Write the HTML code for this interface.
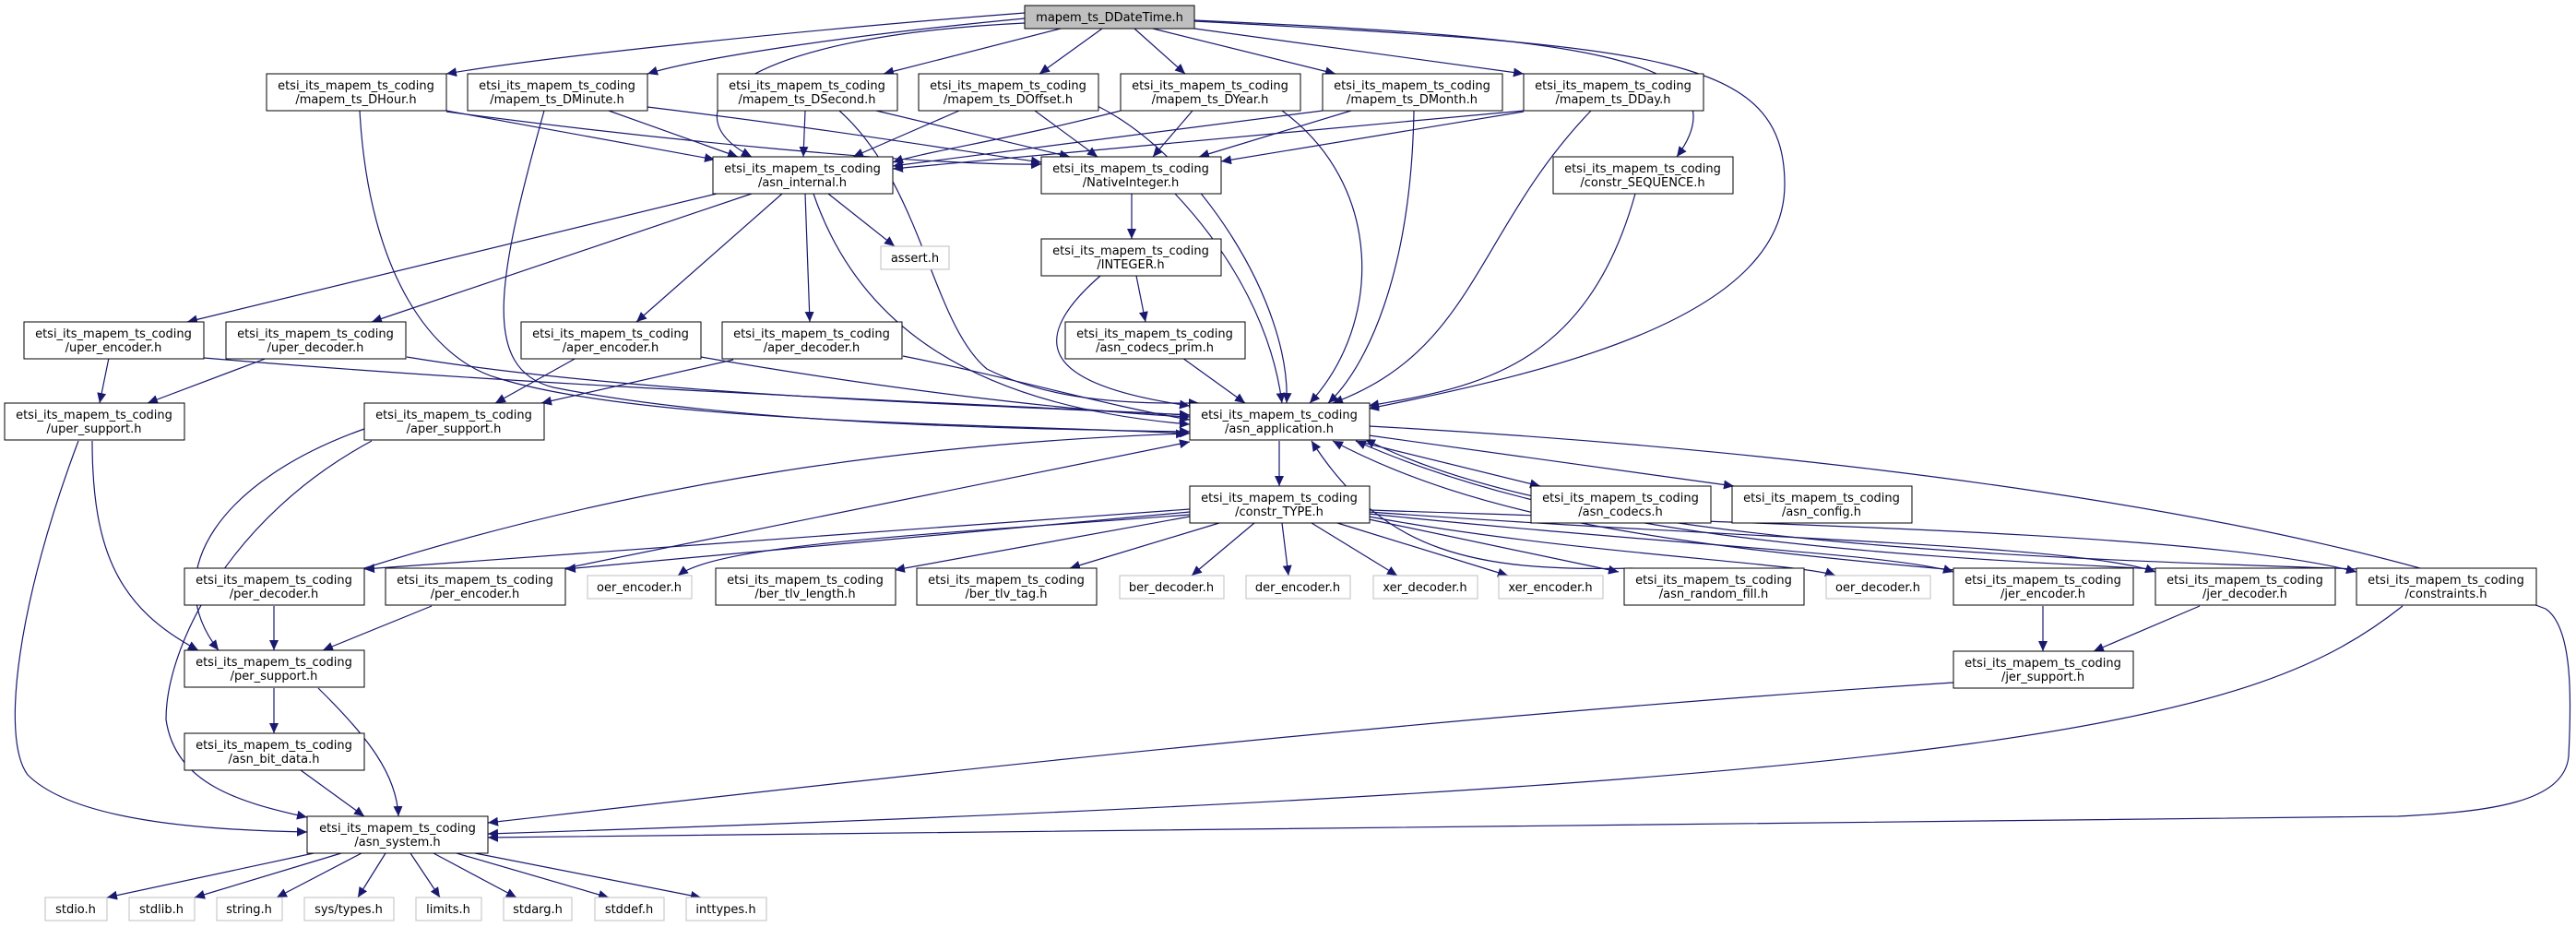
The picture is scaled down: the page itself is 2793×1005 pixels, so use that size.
<!DOCTYPE html>
<html><head><meta charset="utf-8"><style>
html,body{margin:0;padding:0;background:#fff}
svg{display:block}
text{font-family:"DejaVu Sans","Liberation Sans",sans-serif;font-size:13px;fill:#000;text-anchor:middle}
.n{fill:#fff;stroke:#000;stroke-width:1}
.g{fill:#fff;stroke:#bfbfbf;stroke-width:1}
.e path{fill:none;stroke:#191970;stroke-width:1.2}
</style></head><body>
<svg width="2793" height="1005" viewBox="0 0 2793 1005" xmlns="http://www.w3.org/2000/svg">
<defs><marker id="a" markerUnits="userSpaceOnUse" markerWidth="12" markerHeight="10" refX="11" refY="5" orient="auto"><path d="M0,0 L11,5 L0,10 z" fill="#191970"/></marker></defs>
<g class="e" marker-end="url(#a)">
<path d="M1111,14 C900,30 600,60 484,80" marker-end="url(#a)"/>
<path d="M1111,20 C900,40 750,65 702,80" marker-end="url(#a)"/>
<path d="M1150,31 L958,80" marker-end="url(#a)"/>
<path d="M1111,25 C800,40 720,120 815,170" marker-end="url(#a)"/>
<path d="M1195,31 L1127,80" marker-end="url(#a)"/>
<path d="M1230,31 L1285,80" marker-end="url(#a)"/>
<path d="M1250,31 L1448,80" marker-end="url(#a)"/>
<path d="M1295,31 L1652,80" marker-end="url(#a)"/>
<path d="M1295,22 C1700,40 1900,60 1818,170" marker-end="url(#a)"/>
<path d="M1295,23 C1800,50 1935,60 1935,200 C1935,340 1700,400 1484,443" marker-end="url(#a)"/>
<path d="M484,120 L775,173" marker-end="url(#a)"/>
<path d="M484,121 C700,150 1000,180 1129,178" marker-end="url(#a)"/>
<path d="M390,120 C400,300 470,390 540,410 C700,460 1100,460 1290,470" marker-end="url(#a)"/>
<path d="M660,120 L800,170" marker-end="url(#a)"/>
<path d="M702,116 C900,140 1050,165 1129,176" marker-end="url(#a)"/>
<path d="M590,120 C540,300 520,400 600,420 C800,460 1100,465 1290,468" marker-end="url(#a)"/>
<path d="M873,120 L871,170" marker-end="url(#a)"/>
<path d="M950,120 L1160,170" marker-end="url(#a)"/>
<path d="M910,120 C1000,200 1010,350 1070,400 C1150,440 1250,437 1300,437" marker-end="url(#a)"/>
<path d="M1040,120 L925,170" marker-end="url(#a)"/>
<path d="M1122,120 L1190,170" marker-end="url(#a)"/>
<path d="M1190,115 C1300,170 1400,330 1395,437" marker-end="url(#a)"/>
<path d="M1215,120 C1100,150 1000,165 968,176" marker-end="url(#a)"/>
<path d="M1293,120 L1250,170" marker-end="url(#a)"/>
<path d="M1390,120 C1500,200 1500,350 1420,437" marker-end="url(#a)"/>
<path d="M1434,120 L968,180" marker-end="url(#a)"/>
<path d="M1465,120 L1300,170" marker-end="url(#a)"/>
<path d="M1533,120 C1530,300 1480,400 1440,437" marker-end="url(#a)"/>
<path d="M1652,120 L968,183" marker-end="url(#a)"/>
<path d="M1652,121 L1324,175" marker-end="url(#a)"/>
<path d="M1725,120 C1600,250 1600,380 1445,437" marker-end="url(#a)"/>
<path d="M1227,210 L1227,259" marker-end="url(#a)"/>
<path d="M1274,210 C1340,280 1380,360 1390,437" marker-end="url(#a)"/>
<path d="M1232,299 L1242,349" marker-end="url(#a)"/>
<path d="M1193,299 C1100,380 1150,420 1290,440" marker-end="url(#a)"/>
<path d="M1282,388 L1350,437" marker-end="url(#a)"/>
<path d="M1773,210 C1720,400 1600,420 1484,440" marker-end="url(#a)"/>
<path d="M777,210 L203,349" marker-end="url(#a)"/>
<path d="M815,210 L403,349" marker-end="url(#a)"/>
<path d="M848,210 L690,349" marker-end="url(#a)"/>
<path d="M873,210 L878,349" marker-end="url(#a)"/>
<path d="M898,210 L970,267" marker-end="url(#a)"/>
<path d="M882,210 C930,350 1050,440 1290,460" marker-end="url(#a)"/>
<path d="M118,388 L108,437" marker-end="url(#a)"/>
<path d="M221,388 C600,420 1000,435 1290,450" marker-end="url(#a)"/>
<path d="M290,388 L160,437" marker-end="url(#a)"/>
<path d="M441,387 C700,430 1100,440 1290,450" marker-end="url(#a)"/>
<path d="M625,388 L537,437" marker-end="url(#a)"/>
<path d="M760,387 C950,420 1150,445 1290,452" marker-end="url(#a)"/>
<path d="M795,390 L587,437" marker-end="url(#a)"/>
<path d="M979,386 C1100,410 1200,440 1290,455" marker-end="url(#a)"/>
<path d="M100,478 C100,600 130,660 215,705" marker-end="url(#a)"/>
<path d="M85,478 C20,650 0,800 30,840 C80,890 220,900 333,902" marker-end="url(#a)"/>
<path d="M395,465 C240,520 170,620 237,705" marker-end="url(#a)"/>
<path d="M403,478 C250,560 180,700 180,780 C190,850 260,870 333,886" marker-end="url(#a)"/>
<path d="M297,657 L297,705" marker-end="url(#a)"/>
<path d="M468,657 L350,705" marker-end="url(#a)"/>
<path d="M395,616 C700,520 1000,480 1286,470" marker-end="url(#a)"/>
<path d="M613,616 L1290,479" marker-end="url(#a)"/>
<path d="M1290,552 C900,580 600,600 395,617" marker-end="url(#a)"/>
<path d="M1290,555 L613,617" marker-end="url(#a)"/>
<path d="M1290,558 C1000,580 780,590 735,624" marker-end="url(#a)"/>
<path d="M1290,560 L970,618" marker-end="url(#a)"/>
<path d="M1322,567 L1160,616" marker-end="url(#a)"/>
<path d="M1360,567 L1292,624" marker-end="url(#a)"/>
<path d="M1390,567 L1397,624" marker-end="url(#a)"/>
<path d="M1422,567 L1515,624" marker-end="url(#a)"/>
<path d="M1450,567 L1635,624" marker-end="url(#a)"/>
<path d="M1484,563 L1755,620" marker-end="url(#a)"/>
<path d="M1484,560 C1700,600 1950,610 1990,624" marker-end="url(#a)"/>
<path d="M1484,557 C1800,590 2050,600 2118,620" marker-end="url(#a)"/>
<path d="M1484,555 C1900,585 2250,590 2337,620" marker-end="url(#a)"/>
<path d="M1484,553 C2000,570 2400,580 2555,620" marker-end="url(#a)"/>
<path d="M1770,616 C1600,620 1500,600 1422,478" marker-end="url(#a)"/>
<path d="M2120,618 C1800,590 1600,560 1445,478" marker-end="url(#a)"/>
<path d="M2340,617 C2000,600 1700,580 1470,478" marker-end="url(#a)"/>
<path d="M2560,617 C2200,605 1700,590 1480,476" marker-end="url(#a)"/>
<path d="M2215,657 L2215,706" marker-end="url(#a)"/>
<path d="M2385,657 L2270,706" marker-end="url(#a)"/>
<path d="M1387,478 L1387,527" marker-end="url(#a)"/>
<path d="M1470,478 L1670,527" marker-end="url(#a)"/>
<path d="M1484,472 L1880,527" marker-end="url(#a)"/>
<path d="M1484,462 C2000,490 2500,560 2760,660 C2790,680 2788,760 2785,820 C2780,870 2700,880 2600,885 L529,908" marker-end="url(#a)"/>
<path d="M2118,740 C1500,780 900,850 529,892" marker-end="url(#a)"/>
<path d="M2605,657 C2450,780 2200,850 529,904" marker-end="url(#a)"/>
<path d="M297,746 L297,795" marker-end="url(#a)"/>
<path d="M345,746 C400,800 430,840 432,885" marker-end="url(#a)"/>
<path d="M326,835 L395,885" marker-end="url(#a)"/>
<path d="M340,925 L116,973" marker-end="url(#a)"/>
<path d="M370,925 L211,973" marker-end="url(#a)"/>
<path d="M392,925 L300,973" marker-end="url(#a)"/>
<path d="M418,925 L388,973" marker-end="url(#a)"/>
<path d="M445,925 L477,973" marker-end="url(#a)"/>
<path d="M470,925 L560,973" marker-end="url(#a)"/>
<path d="M495,925 L660,973" marker-end="url(#a)"/>
<path d="M515,925 L760,973" marker-end="url(#a)"/>
</g>
<g>
<rect x="1111" y="6" width="184" height="25" fill="#bfbfbf" stroke="#000"/><text x="1203" y="23">mapem_ts_DDateTime.h</text>
<rect class="n" x="289" y="80" width="195" height="40"/><text x="386" y="97">etsi_its_mapem_ts_coding</text><text x="386" y="112">/mapem_ts_DHour.h</text>
<rect class="n" x="507" y="80" width="195" height="40"/><text x="604" y="97">etsi_its_mapem_ts_coding</text><text x="604" y="112">/mapem_ts_DMinute.h</text>
<rect class="n" x="778" y="80" width="195" height="40"/><text x="875" y="97">etsi_its_mapem_ts_coding</text><text x="875" y="112">/mapem_ts_DSecond.h</text>
<rect class="n" x="996" y="80" width="195" height="40"/><text x="1093" y="97">etsi_its_mapem_ts_coding</text><text x="1093" y="112">/mapem_ts_DOffset.h</text>
<rect class="n" x="1215" y="80" width="195" height="40"/><text x="1312" y="97">etsi_its_mapem_ts_coding</text><text x="1312" y="112">/mapem_ts_DYear.h</text>
<rect class="n" x="1434" y="80" width="195" height="40"/><text x="1531" y="97">etsi_its_mapem_ts_coding</text><text x="1531" y="112">/mapem_ts_DMonth.h</text>
<rect class="n" x="1652" y="80" width="195" height="40"/><text x="1749" y="97">etsi_its_mapem_ts_coding</text><text x="1749" y="112">/mapem_ts_DDay.h</text>
<rect class="n" x="773" y="170" width="195" height="40"/><text x="870" y="187">etsi_its_mapem_ts_coding</text><text x="870" y="202">/asn_internal.h</text>
<rect class="n" x="1129" y="170" width="195" height="40"/><text x="1226" y="187">etsi_its_mapem_ts_coding</text><text x="1226" y="202">/NativeInteger.h</text>
<rect class="n" x="1684" y="170" width="195" height="40"/><text x="1781" y="187">etsi_its_mapem_ts_coding</text><text x="1781" y="202">/constr_SEQUENCE.h</text>
<rect class="g" x="955" y="267" width="74" height="25"/><text x="992" y="284">assert.h</text>
<rect class="n" x="1129" y="259" width="195" height="40"/><text x="1226" y="276">etsi_its_mapem_ts_coding</text><text x="1226" y="291">/INTEGER.h</text>
<rect class="n" x="1155" y="349" width="195" height="40"/><text x="1252" y="366">etsi_its_mapem_ts_coding</text><text x="1252" y="381">/asn_codecs_prim.h</text>
<rect class="n" x="26" y="349" width="195" height="40"/><text x="123" y="366">etsi_its_mapem_ts_coding</text><text x="123" y="381">/uper_encoder.h</text>
<rect class="n" x="245" y="349" width="195" height="40"/><text x="342" y="366">etsi_its_mapem_ts_coding</text><text x="342" y="381">/uper_decoder.h</text>
<rect class="n" x="565" y="349" width="195" height="40"/><text x="662" y="366">etsi_its_mapem_ts_coding</text><text x="662" y="381">/aper_encoder.h</text>
<rect class="n" x="783" y="349" width="195" height="40"/><text x="880" y="366">etsi_its_mapem_ts_coding</text><text x="880" y="381">/aper_decoder.h</text>
<rect class="n" x="1290" y="437" width="195" height="40"/><text x="1387" y="454">etsi_its_mapem_ts_coding</text><text x="1387" y="469">/asn_application.h</text>
<rect class="n" x="5" y="437" width="195" height="40"/><text x="102" y="454">etsi_its_mapem_ts_coding</text><text x="102" y="469">/uper_support.h</text>
<rect class="n" x="395" y="437" width="195" height="40"/><text x="492" y="454">etsi_its_mapem_ts_coding</text><text x="492" y="469">/aper_support.h</text>
<rect class="n" x="1290" y="527" width="195" height="40"/><text x="1387" y="544">etsi_its_mapem_ts_coding</text><text x="1387" y="559">/constr_TYPE.h</text>
<rect class="n" x="1660" y="527" width="195" height="40"/><text x="1757" y="544">etsi_its_mapem_ts_coding</text><text x="1757" y="559">/asn_codecs.h</text>
<rect class="n" x="1878" y="527" width="195" height="40"/><text x="1975" y="544">etsi_its_mapem_ts_coding</text><text x="1975" y="559">/asn_config.h</text>
<rect class="n" x="200" y="616" width="195" height="40"/><text x="297" y="633">etsi_its_mapem_ts_coding</text><text x="297" y="648">/per_decoder.h</text>
<rect class="n" x="418" y="616" width="195" height="40"/><text x="515" y="633">etsi_its_mapem_ts_coding</text><text x="515" y="648">/per_encoder.h</text>
<rect class="g" x="637" y="624" width="113" height="25"/><text x="693" y="641">oer_encoder.h</text>
<rect class="n" x="776" y="616" width="195" height="40"/><text x="873" y="633">etsi_its_mapem_ts_coding</text><text x="873" y="648">/ber_tlv_length.h</text>
<rect class="n" x="994" y="616" width="195" height="40"/><text x="1091" y="633">etsi_its_mapem_ts_coding</text><text x="1091" y="648">/ber_tlv_tag.h</text>
<rect class="g" x="1214" y="624" width="113" height="25"/><text x="1270" y="641">ber_decoder.h</text>
<rect class="g" x="1351" y="624" width="113" height="25"/><text x="1407" y="641">der_encoder.h</text>
<rect class="g" x="1489" y="624" width="113" height="25"/><text x="1545" y="641">xer_decoder.h</text>
<rect class="g" x="1625" y="624" width="113" height="25"/><text x="1681" y="641">xer_encoder.h</text>
<rect class="n" x="1761" y="616" width="195" height="40"/><text x="1858" y="633">etsi_its_mapem_ts_coding</text><text x="1858" y="648">/asn_random_fill.h</text>
<rect class="g" x="1980" y="624" width="113" height="25"/><text x="2036" y="641">oer_decoder.h</text>
<rect class="n" x="2118" y="616" width="195" height="40"/><text x="2215" y="633">etsi_its_mapem_ts_coding</text><text x="2215" y="648">/jer_encoder.h</text>
<rect class="n" x="2337" y="616" width="195" height="40"/><text x="2434" y="633">etsi_its_mapem_ts_coding</text><text x="2434" y="648">/jer_decoder.h</text>
<rect class="n" x="2555" y="616" width="195" height="40"/><text x="2652" y="633">etsi_its_mapem_ts_coding</text><text x="2652" y="648">/constraints.h</text>
<rect class="n" x="200" y="705" width="195" height="40"/><text x="297" y="722">etsi_its_mapem_ts_coding</text><text x="297" y="737">/per_support.h</text>
<rect class="n" x="2118" y="706" width="195" height="40"/><text x="2215" y="723">etsi_its_mapem_ts_coding</text><text x="2215" y="738">/jer_support.h</text>
<rect class="n" x="200" y="795" width="195" height="40"/><text x="297" y="812">etsi_its_mapem_ts_coding</text><text x="297" y="827">/asn_bit_data.h</text>
<rect class="n" x="333" y="885" width="196" height="40"/><text x="431" y="902">etsi_its_mapem_ts_coding</text><text x="431" y="917">/asn_system.h</text>
<rect class="g" x="49" y="973" width="67" height="25"/><text x="82" y="990">stdio.h</text>
<rect class="g" x="140" y="973" width="71" height="25"/><text x="175" y="990">stdlib.h</text>
<rect class="g" x="235" y="973" width="71" height="25"/><text x="270" y="990">string.h</text>
<rect class="g" x="330" y="973" width="97" height="25"/><text x="378" y="990">sys/types.h</text>
<rect class="g" x="451" y="973" width="71" height="25"/><text x="486" y="990">limits.h</text>
<rect class="g" x="546" y="973" width="74" height="25"/><text x="583" y="990">stdarg.h</text>
<rect class="g" x="645" y="973" width="75" height="25"/><text x="682" y="990">stddef.h</text>
<rect class="g" x="744" y="973" width="87" height="25"/><text x="787" y="990">inttypes.h</text>
</g>
</svg>
</body></html>
